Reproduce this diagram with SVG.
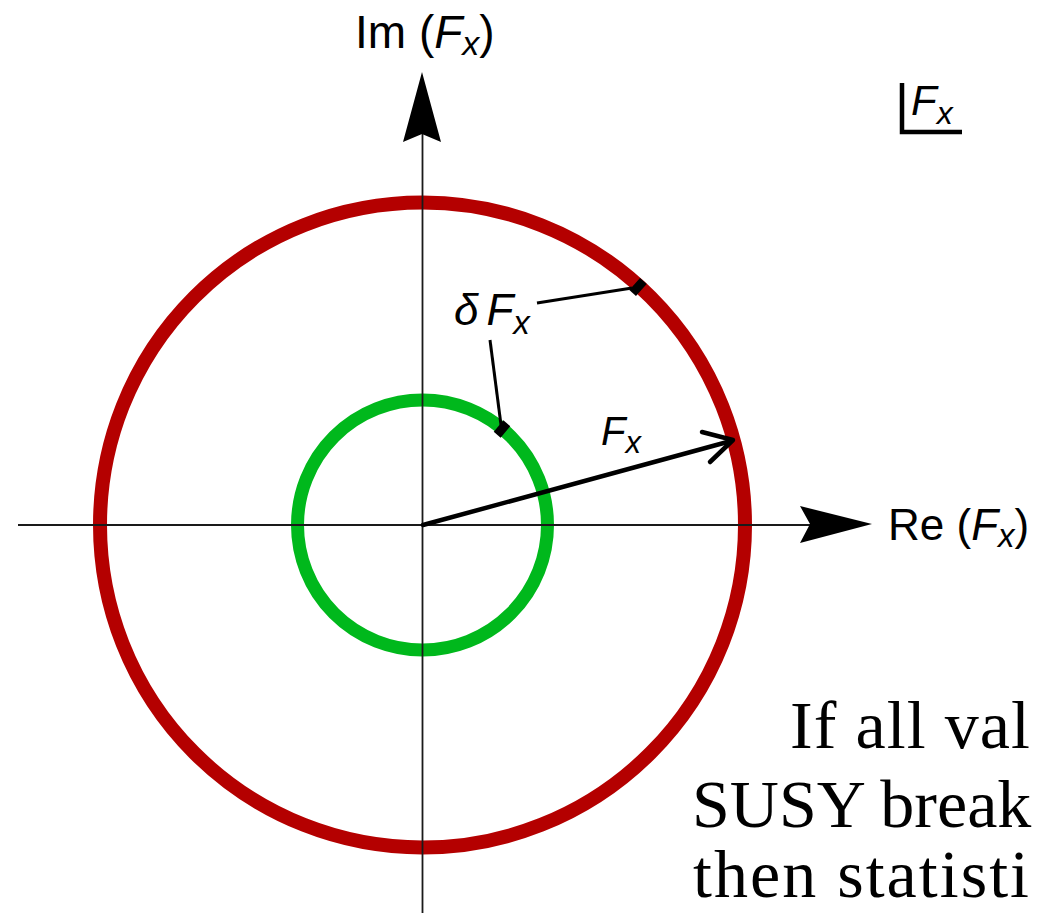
<svg xmlns="http://www.w3.org/2000/svg" width="1037" height="913" viewBox="0 0 1037 913">
<style>
.sans{font-family:"Liberation Sans",Arial,sans-serif;fill:#000}
.it{font-style:italic}
.serif{font-family:"Liberation Serif","Times New Roman",serif;fill:#000;font-size:68px}
.axis{stroke:#1a1a1a;stroke-width:1.8;fill:none}
.lead{stroke:#000;stroke-width:3;fill:none}
</style>
<rect width="1037" height="913" fill="#fff"/>
<g id="outer-circle">
<circle cx="422.5" cy="525" r="322.5" fill="none" stroke="#b40000" stroke-width="14"/>
</g>
<g id="inner-circle">
<circle cx="422.5" cy="525" r="125" fill="none" stroke="#00b81c" stroke-width="13"/>
</g>
<g id="connectors">
<line class="axis" x1="18" y1="525" x2="810" y2="525"/>
<line class="axis" x1="422.5" y1="913" x2="422.5" y2="134"/>
<path d="M872,524 L800,506 L810,524 L800,543 Z" fill="#000"/>
<path d="M422,72 L441,142 L422,134 L403,142 Z" fill="#000"/>
<line x1="423" y1="525" x2="731" y2="441" stroke="#000" stroke-width="4.5" stroke-linecap="round"/>
<polyline points="702,432 733,440 710,462" fill="none" stroke="#000" stroke-width="4.5" stroke-linecap="round" stroke-linejoin="round"/>
<line class="lead" x1="537" y1="303" x2="632" y2="288"/>
<line class="lead" x1="490" y1="340" x2="501" y2="425"/>
<rect x="-8" y="-4.5" width="16" height="9" fill="#000" transform="translate(638,287) rotate(-47.9)"/>
<rect x="-7.5" y="-4.5" width="15" height="9" fill="#000" transform="translate(502,429) rotate(-50)"/>
</g>
<g id="im-label">
<text class="sans" x="355" y="48" font-size="46">Im (<tspan class="it">F</tspan><tspan class="it" font-size="34" dy="7">x</tspan><tspan dy="-7">)</tspan></text>
</g>
<g id="re-label">
<text class="sans" x="888" y="540" font-size="44">Re (<tspan class="it">F</tspan><tspan class="it" font-size="33" dy="7">x</tspan><tspan dy="-7">)</tspan></text>
</g>
<g id="angle-label">
<polyline points="902,83 902,132 962,132" fill="none" stroke="#000" stroke-width="4.5"/>
<text class="sans it" x="911" y="115" font-size="42">F<tspan font-size="32" dy="9">x</tspan></text>
</g>
<g id="delta-label">
<text class="sans it" x="454" y="325" font-size="44">δ<tspan dx="8">F</tspan><tspan font-size="33" dy="9">x</tspan></text>
</g>
<g id="vector-label">
<text class="sans it" x="601" y="445" font-size="40">F<tspan font-size="31" dy="8">x</tspan></text>
</g>
<g id="body-text">
<text class="serif" x="790" y="748" textLength="240" lengthAdjust="spacing">If all val</text>
<text class="serif" x="692" y="827">SUSY break</text>
<text class="serif" x="693" y="897" textLength="336" lengthAdjust="spacing">then statisti</text>
</g>
</svg>
